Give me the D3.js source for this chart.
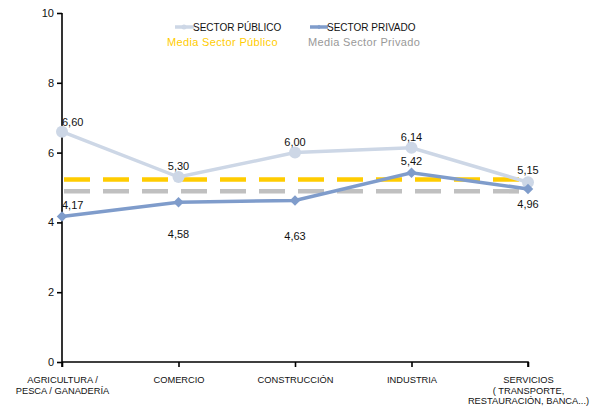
<!DOCTYPE html>
<html><head><meta charset="utf-8">
<script src="https://cdn.jsdelivr.net/npm/d3@7"></script>
<style>body{margin:0;background:#fff}svg{display:block;font-family:"Liberation Sans",Arial,sans-serif}</style>
</head><body><svg id="c" width="604" height="413"></svg>
<script>
const categories = ["AGRICULTURA / PESCA / GANADERÍA", "COMERCIO", "CONSTRUCCIÓN", "INDUSTRIA", "SERVICIOS ( TRANSPORTE, RESTAURACIÓN, BANCA...)"];
const categoryLines = [["AGRICULTURA /", "PESCA / GANADERÍA"], ["COMERCIO"], ["CONSTRUCCIÓN"], ["INDUSTRIA"], ["SERVICIOS", "( TRANSPORTE,", "RESTAURACIÓN, BANCA...)"]];
const sectorPublico = [6.60, 5.30, 6.00, 6.14, 5.15];
const sectorPrivado = [4.17, 4.58, 4.63, 5.42, 4.96];
const mediaPublico = 5.23;
const mediaPrivado = 4.89;
const yTicks = [0, 2, 4, 6, 8, 10];

// label placement (style): dx, dy, anchor
const pubLabelPos = [[0,-6,"start"],[0,-7,"middle"],[0,-7,"middle"],[0,-7,"middle"],[0,-8,"middle"]];
const privLabelPos = [[0,-7,"start"],[0,36,"middle"],[0,40,"middle"],[0,-8,"middle"],[0,19,"middle"]];

const svg = d3.select("#c");
const x = d3.scalePoint().domain(categories).range([62, 528]).padding(0);
const y = d3.scaleLinear().domain([0, 10]).range([362, 13]);
const fmt = v => v.toFixed(2).replace(".", ",");

// axes
const yAxis = svg.append("g").attr("transform","translate(62,0)")
  .call(d3.axisLeft(y).tickValues(yTicks).tickSize(5).tickPadding(3).tickFormat(d3.format("d")));
yAxis.select(".domain").attr("d","M0,13V367").attr("stroke","#000").attr("stroke-width",1.6);
yAxis.selectAll(".tick line").attr("stroke","#000").attr("stroke-width",1.6);
yAxis.selectAll("text").attr("font-size",11).attr("fill","#111").attr("font-family","Liberation Sans, Arial, sans-serif");

const xAxis = svg.append("g").attr("transform","translate(0,362)")
  .call(d3.axisBottom(x).tickSize(5).tickFormat(""));
xAxis.select(".domain").attr("d","M62,0H528V5").attr("stroke","#000").attr("stroke-width",1.6).attr("fill","none");
xAxis.selectAll(".tick line").attr("stroke","#000").attr("stroke-width",1.6);
xAxis.selectAll(".tick").each(function(d,i){
  const t = d3.select(this).append("text").attr("fill","#111").attr("font-size",9.3)
    .attr("text-anchor","middle").attr("font-family","Liberation Sans, Arial, sans-serif");
  categoryLines[i].forEach((ln,j)=> t.append("tspan").attr("x",0).attr("y",21+j*10.5).text(ln));
});

// mean lines
function meanLine(v, color){
  svg.append("line").attr("x1",x(categories[0])+2).attr("x2",x(categories[4]))
    .attr("y1",y(v)).attr("y2",y(v)).attr("stroke",color).attr("stroke-width",4.5)
    .attr("stroke-dasharray","26,13");
}
meanLine(mediaPublico, "#ffcc00");
meanLine(mediaPrivado, "#c0c0c0");

const line = d3.line().x((d,i)=>x(categories[i])).y(d=>y(d));
const pubColor = "#cdd7e6", privColor = "#7f9ccb";

svg.append("path").datum(sectorPublico).attr("d",line).attr("fill","none").attr("stroke",pubColor).attr("stroke-width",3.5);
svg.selectAll(".pp").data(sectorPublico).join("circle").attr("cx",(d,i)=>x(categories[i])).attr("cy",d=>y(d)).attr("r",6).attr("fill",pubColor);

svg.append("path").datum(sectorPrivado).attr("d",line).attr("fill","none").attr("stroke",privColor).attr("stroke-width",3.5);
svg.selectAll(".pv").data(sectorPrivado).join("path")
  .attr("d", d3.symbol(d3.symbolDiamond2, 70))
  .attr("transform",(d,i)=>`translate(${x(categories[i])},${y(d)})`).attr("fill",privColor);

function labels(data, pos){
  svg.append("g").selectAll("text").data(data).join("text")
    .attr("x",(d,i)=>x(categories[i])+pos[i][0]).attr("y",(d,i)=>y(d)+pos[i][1])
    .attr("text-anchor",(d,i)=>pos[i][2]).attr("font-size",11).attr("fill","#111").text(fmt);
}
labels(sectorPublico, pubLabelPos);
labels(sectorPrivado, privLabelPos);

// legend
const lg = svg.append("g");
lg.append("line").attr("x1",175).attr("x2",194).attr("y1",27).attr("y2",27).attr("stroke",pubColor).attr("stroke-width",3.5);
lg.append("circle").attr("cx",184).attr("cy",27).attr("r",2.5).attr("fill",pubColor);
lg.append("text").attr("x",193).attr("y",31).attr("font-size",10).attr("fill","#111").text("SECTOR PÚBLICO");
lg.append("line").attr("x1",310).attr("x2",328).attr("y1",27).attr("y2",27).attr("stroke",privColor).attr("stroke-width",3.5);
lg.append("path").attr("d",d3.symbol(d3.symbolDiamond2,14)).attr("transform","translate(319,27)").attr("fill",privColor);
lg.append("text").attr("x",327).attr("y",31).attr("font-size",10).attr("fill","#111").text("SECTOR PRIVADO");
lg.append("text").attr("x",167).attr("y",46).attr("font-size",11).attr("letter-spacing",0.35).attr("fill","#ffcc00").text("Media Sector Público");
lg.append("text").attr("x",308).attr("y",46).attr("font-size",11).attr("letter-spacing",0.35).attr("fill","#999").text("Media Sector Privado");
</script></body></html>
